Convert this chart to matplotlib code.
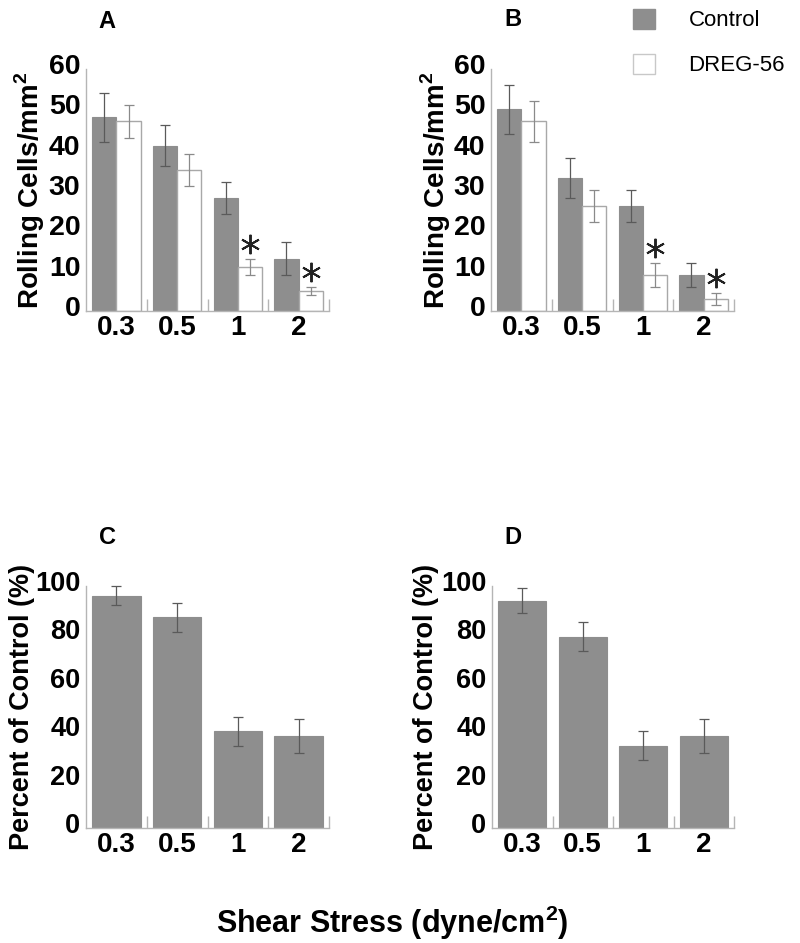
import matplotlib
matplotlib.use("Agg")
import matplotlib.pyplot as plt
from matplotlib.patches import Patch
import matplotlib.transforms as mtransforms
import numpy as np

# ---- data ----
shear = ["0.3", "0.5", "1", "2"]

a_control = [48, 41, 28, 13]
a_control_err = [6, 5, 4, 4]
a_dreg = [47, 35, 11, 5]
a_dreg_err = [4, 4, 2, 1]
a_sig = [False, False, True, True]

b_control = [50, 33, 26, 9]
b_control_err = [6, 5, 4, 3]
b_dreg = [47, 26, 9, 3]
b_dreg_err = [5, 4, 3, 1.5]
b_sig = [False, False, True, True]

c_percent = [96, 87, 40, 38]
c_err = [4, 6, 6, 7]
d_percent = [94, 79, 34, 38]
d_err = [5, 6, 6, 7]

GRAY = "#8e8e8e"
SPINE = "#b5b5b5"
plt.rcParams["font.family"] = ["Liberation Sans", "DejaVu Sans"]
plt.rcParams["mathtext.fontset"] = "custom"
plt.rcParams["mathtext.bf"] = "Liberation Sans:bold"
plt.rcParams["mathtext.rm"] = "Liberation Sans"

W, H = 800, 943
fig = plt.figure(figsize=(8, 9.43), dpi=100)


def ax_at(x0, y_top, x1, y_bot):
    return fig.add_axes([x0 / W, 1 - y_bot / H, (x1 - x0) / W, (y_bot - y_top) / H])


def style(ax, ymax, step, ylabel, lx, lsize, tsize):
    n = len(shear)
    ax.set_xlim(0, n)
    ax.set_ylim(0, ymax)
    for s in ["top", "right"]:
        ax.spines[s].set_visible(False)
    for s in ["left", "bottom"]:
        ax.spines[s].set_color(SPINE)
        ax.spines[s].set_linewidth(1.0)
    ax.set_xticks(np.arange(n) + 0.5)
    ax.set_xticklabels(shear, fontsize=20, fontweight="bold")
    ax.set_xticks(np.arange(1, n + 1), minor=True)
    ax.tick_params(axis="x", which="major", length=0, pad=3)
    ax.tick_params(axis="x", which="minor", direction="in", length=9,
                   color=SPINE, width=1.0)
    ax.set_yticks(np.arange(0, ymax + 1, step))
    ax.tick_params(axis="y", length=0, pad=4, labelsize=tsize)
    off = mtransforms.ScaledTranslation(0, 5 / 100, fig.dpi_scale_trans)
    for t in ax.get_yticklabels():
        t.set_fontweight("bold")
        t.set_transform(t.get_transform() + off)
    ax.set_ylabel(ylabel, fontsize=lsize, fontweight="bold")
    ax.yaxis.set_label_coords(lx, 0.5)


def grouped(ax, ctrl, cerr, dreg, derr, sig):
    x = np.arange(len(shear)) + 0.5
    w = 0.4
    ax.bar(x - w / 2, ctrl, w, color=GRAY, edgecolor=GRAY, linewidth=0.8)
    ax.bar(x + w / 2, dreg, w, color="white", edgecolor="#a8a8a8", linewidth=1.0)
    ax.errorbar(x - w / 2, ctrl, yerr=cerr, fmt="none", ecolor="#5a5a5a",
                elinewidth=0.9, capsize=3.5, capthick=0.9, clip_on=False)
    ax.errorbar(x + w / 2, dreg, yerr=derr, fmt="none", ecolor="#8a8a8a",
                elinewidth=0.9, capsize=3.5, capthick=0.9, clip_on=False)
    for xi, v, e, s in zip(x, dreg, derr, sig):
        if s:
            ax.plot(xi + w / 2, v + e + 3.6, marker=(6, 2, 0), markersize=14,
                    markeredgewidth=1.4, color="#222222", clip_on=False)


def single(ax, vals, errs):
    x = np.arange(len(shear)) + 0.5
    ax.bar(x, vals, 0.8, color=GRAY, edgecolor=GRAY, linewidth=0.8)
    ax.errorbar(x, vals, yerr=errs, fmt="none", ecolor="#5a5a5a",
                elinewidth=0.9, capsize=3.5, capthick=0.9, clip_on=False)


ylab_top = "Rolling Cells/mm$^{\\mathbf{2}}$"
ylab_bot = "Percent of Control (%)"

axA = ax_at(86, 69, 329, 311)
grouped(axA, a_control, a_control_err, a_dreg, a_dreg_err, a_sig)
style(axA, 60, 10, ylab_top, -0.16, 20, 20.5)

axB = ax_at(491, 69, 734, 311)
grouped(axB, b_control, b_control_err, b_dreg, b_dreg_err, b_sig)
style(axB, 60, 10, ylab_top, -0.155, 20, 20.5)

axC = ax_at(86, 586, 329, 828)
single(axC, c_percent, c_err)
style(axC, 100, 20, ylab_bot, -0.21, 19.5, 19.5)

axD = ax_at(492, 586, 734, 828)
single(axD, d_percent, d_err)
style(axD, 100, 20, ylab_bot, -0.217, 19.5, 19.5)

# panel letters
for lbl, px, py in [("A", 107, 22), ("B", 513, 20), ("C", 107, 537), ("D", 513, 537)]:
    fig.text(px / W, 1 - py / H, lbl, fontsize=17, fontweight="bold",
             ha="center", va="center")

# legend
handles = [Patch(facecolor=GRAY, edgecolor=GRAY, label="Control"),
           Patch(facecolor="white", edgecolor="#c8c8c8", label="DREG-56")]
fig.legend(handles=handles, loc="upper left", bbox_to_anchor=(624 / W, 1 - 0 / H),
           frameon=False, fontsize=16, handlelength=1.0, handleheight=1.0,
           labelspacing=1.0, handletextpad=1.5, borderaxespad=0)

# shared x label
fig.text(392 / W, 1 - 923 / H, "Shear Stress (dyne/cm$^{\\mathbf{2}}$)",
         fontsize=22, fontweight="bold", ha="center", va="center")

fig.savefig("out.png", dpi=100)
